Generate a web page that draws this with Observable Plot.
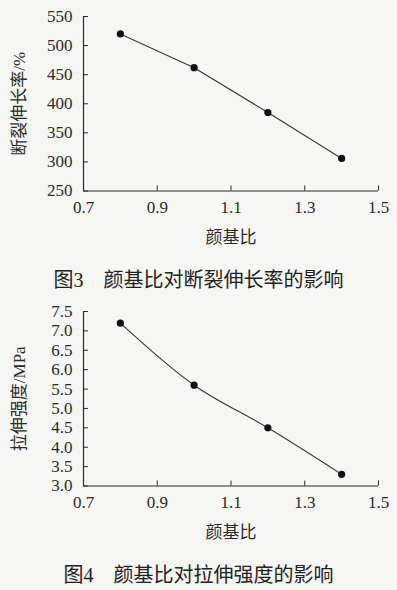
<!DOCTYPE html>
<html><head><meta charset="utf-8">
<script src="https://cdn.jsdelivr.net/npm/d3@7"></script>
<script src="https://cdn.jsdelivr.net/npm/@observablehq/plot@0.6"></script>
<style>
body{margin:0;background:#f6f6f4;}
#page{position:relative;width:397px;height:590px;overflow:hidden;background:#f6f6f4;}
#page svg{font-family:"Liberation Serif","Times New Roman",serif !important;font-size:17px !important;}
.chart{position:absolute;left:0;}
.caption{position:absolute;left:0;width:397px;text-align:center;font-family:"Liberation Serif","Times New Roman","Noto Sans CJK SC",serif;font-size:20px;color:#222;line-height:20px;white-space:pre;}
</style></head><body><div id="page"></div>
<script>
const xRatio = [0.8, 1.0, 1.2, 1.4];
const elongation = [520, 462, 385, 306];
const strength = [7.2, 5.6, 4.5, 3.3];
const xTicks = [0.7, 0.9, 1.1, 1.3, 1.5];
const yTicks1 = [250, 300, 350, 400, 450, 500, 550];
const yTicks2 = [3.0, 3.5, 4.0, 4.5, 5.0, 5.5, 6.0, 6.5, 7.0, 7.5];
const xLabel = "颜基比";
const yLabel1 = "断裂伸长率/%";
const yLabel2 = "拉伸强度/MPa";
const caption1 = "图3\u2003颜基比对断裂伸长率的影响";
const caption2 = "图4\u2003颜基比对拉伸强度的影响";

const ink = "#2a2a2a";
const serif = "Liberation Serif, Times New Roman, serif";
const mixed = "Liberation Serif, Times New Roman, Noto Sans CJK SC, serif";

function makeChart(values, yTicks, yLabel, curve, yFmt) {
  const data = xRatio.map((x, i) => ({x, y: values[i]}));
  const xDom = [xTicks[0], xTicks[xTicks.length - 1]];
  const yDom = [yTicks[0], yTicks[yTicks.length - 1]];
  return Plot.plot({
    width: 397, height: 262,
    marginLeft: 83, marginRight: 19, marginTop: 16, marginBottom: 71.5,
    style: {background: "transparent", color: ink, overflow: "visible"},
    x: {domain: xDom},
    y: {domain: yDom},
    marks: [
      Plot.axisX({ticks: xTicks, tickSize: -5, tickFormat: () => "", stroke: ink, label: null}),
      Plot.axisX({ticks: xTicks, tickSize: 0, tickPadding: 10, tickFormat: d3.format(".1f"), fill: ink, fontFamily: serif, fontSize: 17, label: null}),
      Plot.axisY({ticks: yTicks, tickSize: -5, tickFormat: () => "", stroke: ink, label: null}),
      Plot.axisY({ticks: yTicks, tickSize: 0, tickPadding: 11, tickFormat: yFmt, fill: ink, fontFamily: serif, fontSize: 17, label: null}),
      Plot.ruleX([xDom[0]], {stroke: ink, strokeWidth: 1.2}),
      Plot.ruleY([yDom[0]], {stroke: ink, strokeWidth: 1.2}),
      Plot.line(data, {x: "x", y: "y", stroke: "#3a3a3a", strokeWidth: 1.1, curve}),
      Plot.dot(data, {x: "x", y: "y", r: 3.6, fill: "#111", stroke: "none"}),
      Plot.text([xLabel], {frameAnchor: "bottom", lineAnchor: "middle", textAnchor: "middle", dy: 47, text: d => d, fontSize: 17, fill: ink, fontFamily: "Noto Sans CJK SC, sans-serif"}),
      Plot.text([yLabel], {frameAnchor: "left", textAnchor: "middle", lineAnchor: "middle", dx: -64, rotate: -90, text: d => d, fontSize: 17, fill: ink, fontFamily: mixed})
    ]
  });
}

const page = document.getElementById("page");
function place(el, top) {
  const wrap = document.createElement("div");
  wrap.className = "chart";
  wrap.style.top = top + "px";
  wrap.appendChild(el);
  page.appendChild(wrap);
}
function caption(text, top) {
  const d = document.createElement("div");
  d.className = "caption";
  d.style.top = top + "px";
  d.textContent = text;
  page.appendChild(d);
}
place(makeChart(elongation, yTicks1, yLabel1, "linear", d3.format("d")), 0);
caption(caption1, 270);
place(makeChart(strength, yTicks2, yLabel2, "catmull-rom", d3.format(".1f")), 295);
caption(caption2, 565);
</script>
</body></html>
